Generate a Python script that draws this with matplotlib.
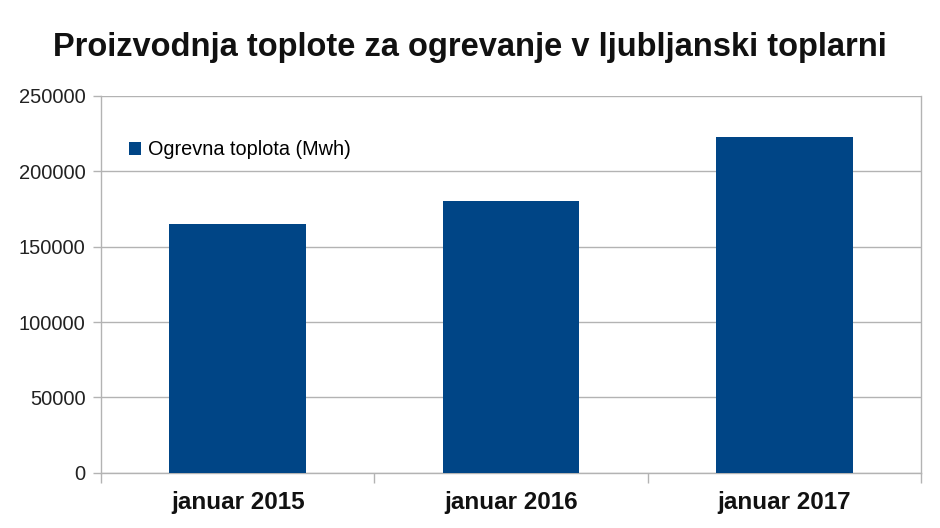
import matplotlib
matplotlib.use('Agg')
import matplotlib.pyplot as plt

categories = ['januar 2015', 'januar 2016', 'januar 2017']
heat_mwh = [165000, 180500, 223000]
series_name = 'Ogrevna toplota (Mwh)'
y_ticks = [0, 50000, 100000, 150000, 200000, 250000]

plt.rcParams['font.family'] = ['Liberation Sans', 'DejaVu Sans']

fig = plt.figure(figsize=(9.4, 5.28), dpi=100)
ax = fig.add_axes([0.1074, 0.1047, 0.8726, 0.7135])

x = range(len(categories))
ax.bar(x, heat_mwh, width=0.5, color='#004586', label=series_name, zorder=3)

ax.set_xlim(-0.5, len(categories) - 0.5)
ax.set_ylim(0, 250000)
ax.set_yticks(y_ticks)
ax.set_yticklabels([str(v) for v in y_ticks], fontsize=14.5, color='#222222')
ax.yaxis.grid(True, color='#b3b3b3', linewidth=1, zorder=0)

ax.set_xticks(list(x))
ax.set_xticklabels(categories, fontsize=17.5, fontweight='bold', color='#111111')
ax.tick_params(axis='x', which='major', length=0, pad=13)
ax.set_xticks([-0.5, 0.5, 1.5, 2.5], minor=True)
ax.tick_params(axis='x', which='minor', length=7.5, color='#b3b3b3', width=1)
ax.tick_params(axis='y', length=6, color='#b3b3b3', width=1, pad=5)

for side in ['left', 'bottom', 'right', 'top']:
    ax.spines[side].set_color('#b3b3b3')
    ax.spines[side].set_linewidth(1)
ax.spines['top'].set_visible(False)

ax.legend(loc='upper left', bbox_to_anchor=(0.013, 0.93), frameon=False,
          fontsize=14.3, handlelength=0.6, handleheight=0.6, handletextpad=0.35)

fig.suptitle('Proizvodnja toplote za ogrevanje v ljubljanski toplarni',
             fontsize=23.5, fontweight='bold', y=0.94, color='#111111')

fig.savefig('out.png', dpi=100)
